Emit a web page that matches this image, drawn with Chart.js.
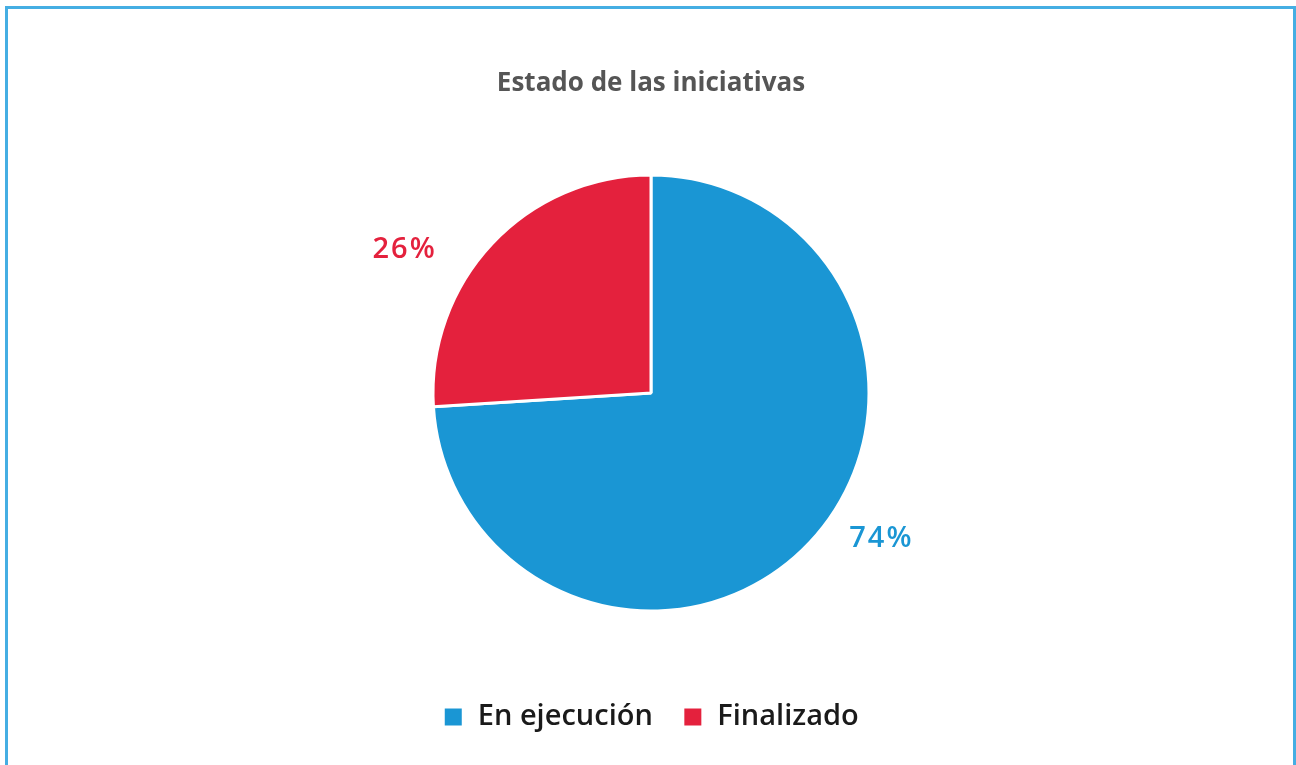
<!DOCTYPE html>
<html>
<head>
<meta charset="utf-8">
<script src="https://cdn.jsdelivr.net/npm/chart.js@4.4.0/dist/chart.umd.min.js"></script>
<style>
  html, body { margin: 0; padding: 0; background: #fff; }
  body { width: 1296px; height: 765px; overflow: hidden; position: relative; }
  .frame {
    position: absolute; left: 5px; top: 6px; width: 1285px; height: 800px;
    border: 3px solid #45aee3; border-bottom: none;
  }
  #wrap { position: absolute; left: 0; top: 0; width: 1296px; height: 765px; }
</style>
</head>
<body>
<div class="frame"></div>
<div id="wrap"><canvas id="estadoChart"></canvas></div>
<script>
// datos del gráfico
const categorias = ['En ejecución', 'Finalizado'];
const porcentajes = [74, 26];
const colores = ['#1a96d4', '#e4213d'];

// etiquetas de porcentaje fuera del pastel
const etiquetasFuera = {
  id: 'etiquetasFuera',
  afterDatasetsDraw(chart) {
    const { ctx } = chart;
    const meta = chart.getDatasetMeta(0);
    ctx.save();
    ctx.font = '600 29px "Open Sans", sans-serif';
    ctx.letterSpacing = '2px';
    ctx.textAlign = 'center';
    ctx.textBaseline = 'middle';
    meta.data.forEach((arc, i) => {
      const { x, y, startAngle, endAngle, outerRadius } = arc.getProps(['x', 'y', 'startAngle', 'endAngle', 'outerRadius'], true);
      const mid = (startAngle + endAngle) / 2;
      const lx = x + Math.cos(mid) * outerRadius * 1.5 - 8;
      const ly = y + Math.sin(mid) * outerRadius * 0.97 + 1;
      ctx.fillStyle = colores[i];
      ctx.fillText(porcentajes[i] + '%', lx, ly);
    });
    ctx.restore();
  }
};

const ctx = document.getElementById('estadoChart').getContext('2d');
const estadoChart = new Chart(ctx, {
  type: 'pie',
  data: {
    labels: categorias,
    datasets: [{
      data: porcentajes,
      backgroundColor: colores,
      borderColor: '#ffffff',
      borderWidth: 3,
      radius: 218
    }]
  },
  options: {
    responsive: true,
    maintainAspectRatio: false,
    animation: false,
    layout: { padding: { bottom: 23.5, left: 6 } },
    plugins: {
      title: {
        display: true,
        text: 'Estado de las iniciativas',
        color: '#555555',
        font: { family: '"Open Sans", sans-serif', size: 26, weight: 'bold', lineHeight: 1 },
        padding: { top: 71, bottom: 16.5 }
      },
      legend: {
        position: 'bottom',
        labels: {
          color: '#1a1a1a',
          boxWidth: 20,
          boxHeight: 20,
          padding: 30,
          font: { family: '"Open Sans", sans-serif', size: 29, weight: '600' }
        }
      },
      tooltip: { enabled: false }
    }
  },
  plugins: [etiquetasFuera]
});
</script>
</body>
</html>
